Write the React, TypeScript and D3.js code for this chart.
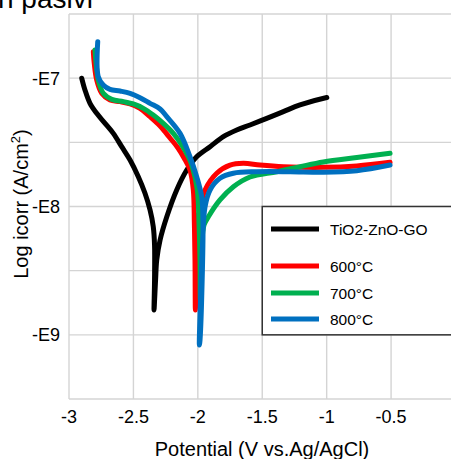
import React from "react";
import * as d3 from "d3";

type Pt = [number, number];

const xTicks = [-3, -2.5, -2, -1.5, -1, -0.5];
const xTickLabels = ["-3", "-2.5", "-2", "-1.5", "-1", "-0.5"];
const yGrid = [-6.5, -7, -7.5, -8, -8.5, -9, -9.5];
const yTicks = [-7, -8, -9];
const yTickLabels = ["-E7", "-E8", "-E9"];

const seriesNames = ["TiO2-ZnO-GO", "600°C", "700°C", "800°C"];
const seriesColors = ["#000000", "#ff0000", "#00b050", "#0070c0"];

const tio2: Pt[] = [
  [-2.901, -7.001], [-2.876, -7.092], [-2.837, -7.196], [-2.785, -7.274], [-2.72, -7.352],
  [-2.656, -7.43], [-2.591, -7.534], [-2.526, -7.638], [-2.462, -7.768], [-2.41, -7.897],
  [-2.371, -8.027], [-2.346, -8.157], [-2.336, -8.3], [-2.336, -8.573], [-2.34, -8.807],
  [-2.328, -8.573], [-2.319, -8.417], [-2.293, -8.261], [-2.241, -8.08], [-2.164, -7.871],
  [-2.086, -7.716], [-2.009, -7.612], [-1.905, -7.534], [-1.802, -7.456], [-1.698, -7.404],
  [-1.595, -7.365], [-1.465, -7.313], [-1.336, -7.261], [-1.207, -7.209], [-0.999, -7.151],
];

const c600: Pt[] = [
  [-2.811, -6.794], [-2.804, -6.884], [-2.785, -7.014], [-2.746, -7.118], [-2.682, -7.17],
  [-2.604, -7.183], [-2.526, -7.201], [-2.449, -7.235], [-2.371, -7.3], [-2.293, -7.373],
  [-2.216, -7.466], [-2.154, -7.544], [-2.107, -7.622], [-2.061, -7.716], [-2.035, -7.871],
  [-2.027, -8.129], [-2.022, -8.417], [-2.019, -8.807], [-2.012, -8.45], [-2.006, -8.261],
  [-1.991, -8.066], [-1.944, -7.871], [-1.853, -7.741], [-1.75, -7.677], [-1.647, -7.663],
  [-1.517, -7.677], [-1.336, -7.69], [-1.026, -7.695], [-0.766, -7.684], [-0.508, -7.656],
];

const c700: Pt[] = [
  [-2.798, -6.781], [-2.79, -6.882], [-2.773, -7.014], [-2.734, -7.118], [-2.668, -7.165],
  [-2.578, -7.183], [-2.501, -7.201], [-2.423, -7.235], [-2.346, -7.287], [-2.268, -7.352],
  [-2.19, -7.43], [-2.125, -7.521], [-2.074, -7.612], [-2.047, -7.677], [-2.004, -7.871],
  [-1.991, -8.129], [-1.983, -8.417], [-1.981, -8.729], [-1.975, -8.45], [-1.97, -8.3],
  [-1.952, -8.144], [-1.918, -8.08], [-1.828, -7.949], [-1.724, -7.846], [-1.595, -7.77],
  [-1.387, -7.729], [-1.207, -7.69], [-1.026, -7.653], [-0.766, -7.618], [-0.508, -7.585],
];

const c800: Pt[] = [
  [-2.777, -6.716], [-2.773, -6.989], [-2.734, -7.053], [-2.682, -7.087], [-2.604, -7.1],
  [-2.526, -7.118], [-2.449, -7.152], [-2.371, -7.196], [-2.293, -7.24], [-2.241, -7.3],
  [-2.138, -7.43], [-2.061, -7.612], [-2.009, -7.768], [-1.97, -7.924], [-1.96, -8.129],
  [-1.965, -8.518], [-1.983, -9.04], [-1.988, -9.079], [-1.975, -8.6], [-1.964, -8.3],
  [-1.944, -8.002], [-1.905, -7.871], [-1.828, -7.78], [-1.724, -7.741], [-1.543, -7.729],
  [-1.284, -7.729], [-1.026, -7.733], [-0.766, -7.721], [-0.508, -7.677],
];

const seriesData: Pt[][] = [tio2, c600, c700, c800];

export default function App() {
  const W = 451;
  const H = 459;
  const x = d3.scaleLinear().domain([-3, 0]).range([69, 455.5]);
  const y = d3.scaleLinear().domain([-6.5, -9.5]).range([14, 399]);
  const line = d3
    .line<Pt>()
    .x((d) => x(d[0]))
    .y((d) => y(d[1]))
    .curve(d3.curveCatmullRom.alpha(0.5));

  const font = "'Liberation Sans', Arial, sans-serif";
  const grid = "#d4d4d4";

  const legX = x(-1.5);
  const legTop = y(-8);
  const legBottom = y(-9);
  const legRows = [229, 266, 293, 319];

  return (
    <svg
      width={W}
      height={H}
      style={{ position: "fixed", left: 0, top: 0, display: "block", background: "#fff" }}
      fontFamily={font}
    >
      <rect x={0} y={0} width={W} height={H} fill="#fff" />
      <text x={-2} y={8} fontSize={28} fill="#000">n pasivi</text>
      {yGrid.map((v) => (
        <line key={"gy" + v} x1={x(-3)} x2={W} y1={y(v)} y2={y(v)} stroke={grid} strokeWidth={1.4} />
      ))}
      {[...xTicks, 0].map((v) => (
        <line key={"gx" + v} x1={x(v)} x2={x(v)} y1={y(-6.5)} y2={y(-9.5)} stroke={grid} strokeWidth={1.4} />
      ))}
      {xTicks.map((v, i) => (
        <text key={"xt" + v} x={x(v)} y={423} fontSize={18} textAnchor="middle" fill="#000">
          {xTickLabels[i]}
        </text>
      ))}
      {yTicks.map((v, i) => (
        <text key={"yt" + v} x={60} y={y(v)} dy="0.36em" fontSize={18} textAnchor="end" fill="#000">
          {yTickLabels[i]}
        </text>
      ))}
      <text x={262} y={456} fontSize={20} textAnchor="middle" fill="#000">
        Potential (V vs.Ag/AgCl)
      </text>
      <text transform="translate(28,204) rotate(-90)" fontSize={20} textAnchor="middle" fill="#000">
        Log icorr (A/cm
        <tspan fontSize={13} dy={-8}>2</tspan>
        <tspan dy={8}>)</tspan>
      </text>
      {seriesData.map((d, i) => (
        <path
          key={"s" + i}
          d={line(d) || ""}
          fill="none"
          stroke={seriesColors[i]}
          strokeWidth={5}
          strokeLinejoin="round"
          strokeLinecap="round"
        />
      ))}
      <rect
        x={legX}
        y={legTop}
        width={W - legX + 10}
        height={legBottom - legTop}
        fill="#fff"
        stroke="#333"
        strokeWidth={1.5}
      />
      {seriesNames.map((n, i) => (
        <g key={"lg" + i}>
          <line x1={271} x2={319} y1={legRows[i]} y2={legRows[i]} stroke={seriesColors[i]} strokeWidth={5} />
          <text x={330} y={legRows[i]} dy="0.36em" fontSize={15.5} fill="#000">
            {n}
          </text>
        </g>
      ))}
    </svg>
  );
}
